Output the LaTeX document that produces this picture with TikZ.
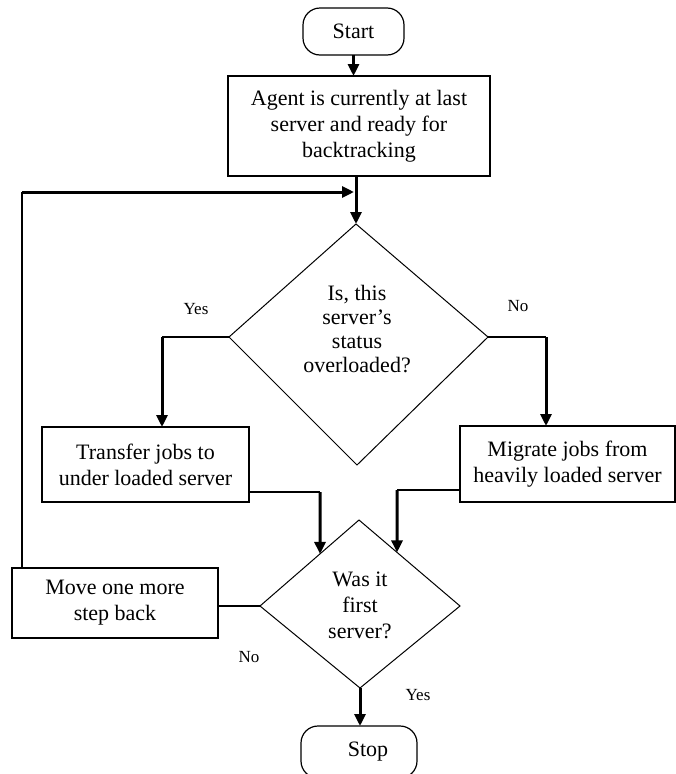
\documentclass[tikz,border=0pt]{standalone}
\usepackage{fontspec}
\setmainfont{Liberation Serif}
\usetikzlibrary{arrows.meta}
\begin{document}
\begin{tikzpicture}[x=1pt,y=-1pt,
  every node/.style={inner sep=0pt, outer sep=0pt},
  txt/.style={align=center, font=\fontsize{22}{26}\selectfont},
  lbl/.style={font=\fontsize{17}{20}\selectfont},
  boxnode/.style={draw, line width=1.3pt, txt},
  termnode/.style={draw, line width=1.2pt, rounded corners=17pt, txt},
  dshape/.style={draw, line width=1pt, line join=miter},
  arr/.style={line width=3pt, -{Triangle[length=12pt,width=11pt]}},
  thinline/.style={line width=1.5pt},
  loopline/.style={line width=2pt}]
\useasboundingbox (0,0) rectangle (676,774);
\clip (0,0) rectangle (676,774);

% terminals and boxes
\node[termnode, minimum width=101pt, minimum height=47pt] (start) at (353.5,31.5) {Start};
\node[boxnode, minimum width=262pt, minimum height=100pt] (agent) at (359,126)
  {Agent is currently at last\\server and ready for\\backtracking};
\node[boxnode, minimum width=207pt, minimum height=75pt] (transfer) at (145.5,464.5)
  {Transfer jobs to\\under loaded server};
\node[boxnode, minimum width=215pt, minimum height=76pt] (migrate) at (567.5,464)
  {Migrate jobs from\\heavily loaded server};
\node[boxnode, minimum width=206pt, minimum height=70pt] (move) at (115,603)
  {Move one more\\step back};
\node[termnode, minimum width=116pt, minimum height=52pt] (stop) at (359,752)
  {\hspace*{18pt}Stop};

% decision 1
\coordinate (d1t) at (356,224);
\coordinate (d1l) at (229,337);
\coordinate (d1r) at (488,337);
\coordinate (d1b) at (357,465);
\draw[dshape] (d1t) -- (d1r) -- (d1b) -- (d1l) -- cycle;
\node[txt, font=\fontsize{22}{24}\selectfont] (q1) at (357,329)
  {Is, this\\server’s\\status\\overloaded?};

% decision 2
\coordinate (d2t) at (359,520);
\coordinate (d2l) at (260,606);
\coordinate (d2r) at (460,606);
\coordinate (d2b) at (360,688);
\draw[dshape] (d2t) -- (d2r) -- (d2b) -- (d2l) -- cycle;
\node[txt] (q2) at (360,605) {Was it\\first\\server?};

% labels
\node[lbl] (yes1) at (196,309) {Yes};
\node[lbl] (no1) at (518,306) {No};
\node[lbl] (no2) at (249,657) {No};
\node[lbl] (yes2) at (418,695) {Yes};

% connectors
\draw[arr] (start.south) -- (start.south |- agent.north);
\draw[arr] (agent.south -| d1t) -- (d1t);

\coordinate (lp) at (22,192);
\draw[loopline] (move.north -| lp) -- (lp);
\draw[arr, shorten >=2pt] (lp) -- (lp -| d1t);

\coordinate (yb) at (162,337);
\draw[thinline] (d1l) -- (yb);
\draw[arr] (yb) -- (yb |- transfer.north);

\coordinate (nb) at (546,337);
\draw[thinline] (d1r) -- (nb);
\draw[arr] (nb) -- (nb |- migrate.north);

\coordinate (j1) at (320,492);
\coordinate (j1b) at (320,650);
\draw[thinline] (j1 -| transfer.east) -- (j1);
\draw[arr] (j1) -- (intersection of j1--j1b and d2l--d2t);

\coordinate (j2) at (397,490);
\coordinate (j2b) at (397,650);
\draw[thinline] (j2 -| migrate.west) -- (j2);
\draw[arr] (j2) -- (intersection of j2--j2b and d2t--d2r);

\draw[thinline] (d2l) -- (d2l -| move.east);
\draw[arr] (d2b) -- (d2b |- stop.north);
\end{tikzpicture}
\end{document}
